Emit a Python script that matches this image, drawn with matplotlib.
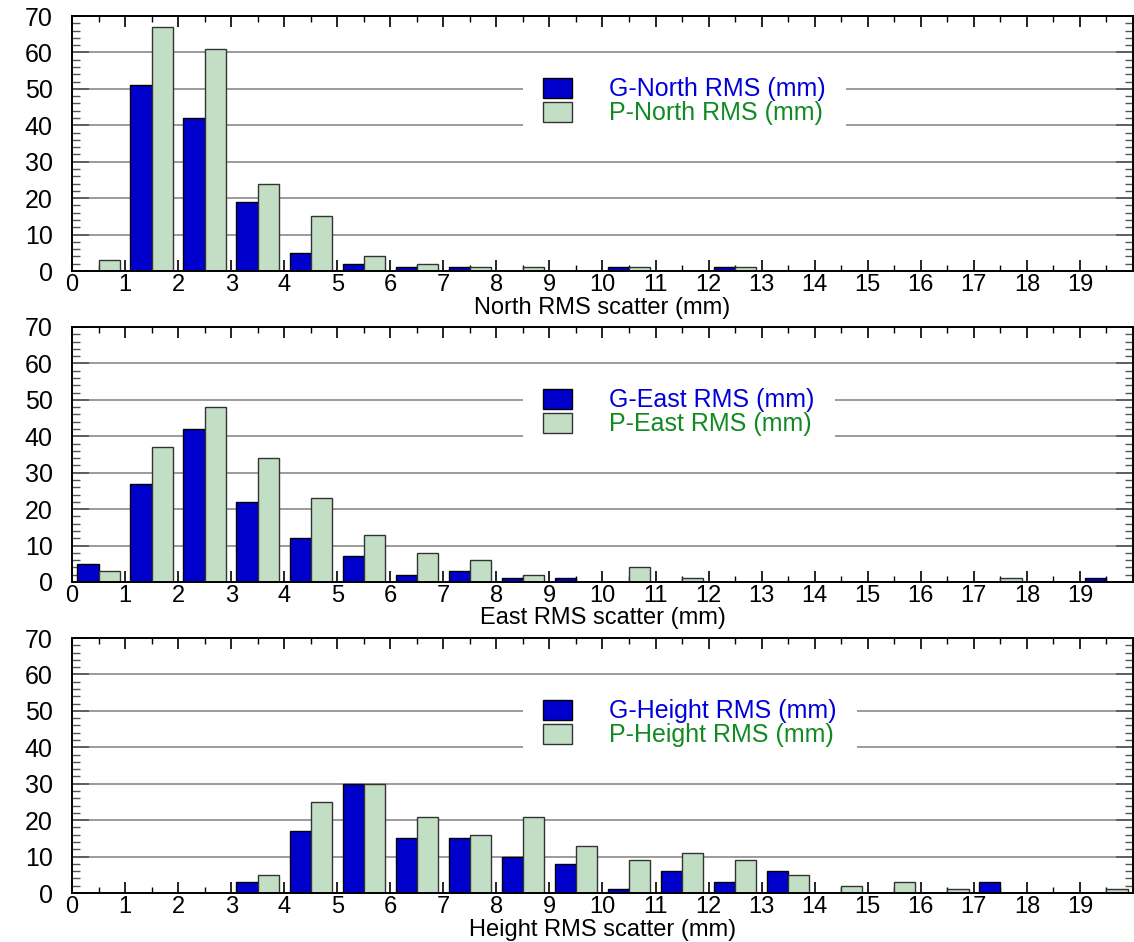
import numpy as np
import matplotlib
matplotlib.use("Agg")
import matplotlib.pyplot as plt
from matplotlib.patches import Patch
from matplotlib.ticker import MultipleLocator

# 1 mm bins, left edges 0..19
bins = np.arange(20)

north_g = [0, 51, 42, 19, 5, 2, 1, 1, 0, 0, 1, 0, 1, 0, 0, 0, 0, 0, 0, 0]
north_p = [3, 67, 61, 24, 15, 4, 2, 1, 1, 0, 1, 0, 1, 0, 0, 0, 0, 0, 0, 0]
east_g = [5, 27, 42, 22, 12, 7, 2, 3, 1, 1, 0, 0, 0, 0, 0, 0, 0, 0, 0, 1]
east_p = [3, 37, 48, 34, 23, 13, 8, 6, 2, 0, 4, 1, 0, 0, 0, 0, 0, 1, 0, 0]
height_g = [0, 0, 0, 3, 17, 30, 15, 15, 10, 8, 1, 6, 3, 6, 0, 0, 0, 3, 0, 0]
height_p = [0, 0, 0, 5, 25, 30, 21, 16, 21, 13, 9, 11, 9, 5, 2, 3, 1, 0, 0, 1]

components = ["North", "East", "Height"]
g_series = [north_g, east_g, height_g]
p_series = [north_p, east_p, height_p]
x_ticklabels = [str(i) for i in range(20)]

BLUE = "#0000CC"
GREEN = "#C2DFC6"
BLUE_TXT = "#0000D8"
GREEN_TXT = "#118A22"
FS = 18

plt.rcParams["font.family"] = ["Liberation Sans", "DejaVu Sans"]

fig = plt.figure(figsize=(11.34, 9.42), dpi=100)
left, width, height = 0.0635, 0.9356, 0.2707
bottoms = [0.7123, 0.3822, 0.0520]

for comp, g, p, bot in zip(components, g_series, p_series, bottoms):
    ax = fig.add_axes([left, bot, width, height])
    ax.set_xlim(0, 20)
    ax.set_ylim(0, 70)

    for y in range(10, 70, 10):
        ax.axhline(y, color="#808080", lw=1.1, zorder=0)

    ax.bar(bins + 0.1, g, width=0.4, align="edge", color=BLUE,
           edgecolor="black", lw=1.0, zorder=2)
    ax.bar(bins + 0.5, p, width=0.4, align="edge", color=GREEN,
           edgecolor="#333333", lw=1.0, zorder=2)

    ax.set_xticks(bins)
    ax.set_xticklabels(x_ticklabels)
    ax.xaxis.set_minor_locator(MultipleLocator(0.5))
    ax.set_yticks(range(0, 80, 10))
    ax.yaxis.set_minor_locator(MultipleLocator(2))
    ax.tick_params(axis="x", which="both", direction="in", top=True,
                   labelsize=17, pad=2, color="black")
    ax.tick_params(axis="x", which="major", length=8, width=1.2)
    ax.tick_params(axis="x", which="minor", length=4.5, width=1.0)
    ax.tick_params(axis="y", which="both", direction="in", right=True,
                   labelsize=FS, pad=14, color="#555555")
    ax.tick_params(axis="y", which="major", length=12, width=1.2)
    ax.tick_params(axis="y", which="minor", length=6, width=1.0)
    for s in ax.spines.values():
        s.set_linewidth(1.4)

    ax.set_xlabel(f"{comp} RMS scatter (mm)", fontsize=17, va="top")
    ax.xaxis.set_label_coords(0.5, -0.100)

    handles = [Patch(facecolor=BLUE, edgecolor="black", lw=1.0),
               Patch(facecolor=GREEN, edgecolor="#333333", lw=1.0)]
    leg = ax.legend(handles, [f"G-{comp} RMS (mm)", f"P-{comp} RMS (mm)"],
                    loc="upper left", bbox_to_anchor=(0.425, 0.838),
                    fontsize=FS, frameon=True, facecolor="white",
                    edgecolor="none", framealpha=1.0, fancybox=False,
                    borderpad=0.8, handlelength=1.15, handleheight=0.85,
                    handletextpad=1.5, labelspacing=0.0, borderaxespad=0)
    leg.set_zorder(3)
    for t, c in zip(leg.get_texts(), [BLUE_TXT, GREEN_TXT]):
        t.set_color(c)

fig.savefig("out.png", dpi=100)
